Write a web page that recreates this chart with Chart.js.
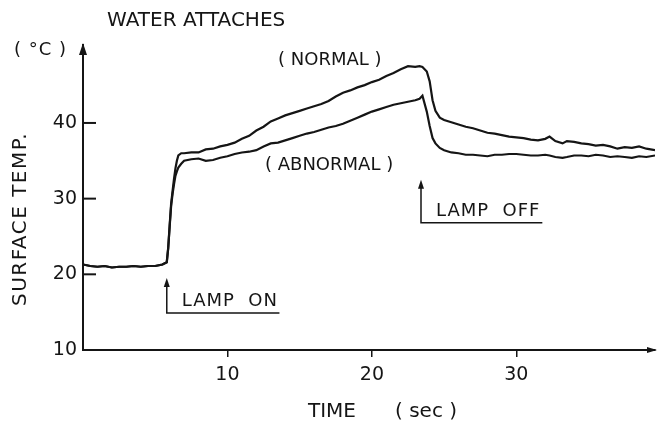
<!DOCTYPE html>
<html lang="en">
<head>
<meta charset="UTF-8">
<title>Water attaches - surface temperature</title>
<script src="https://cdn.jsdelivr.net/npm/chart.js"></script>
<style>
    body { margin: 0; background: #fff; }
    .chart-box { width: 657px; height: 425px; position: relative; }
</style>
</head>
<body>
<div class="chart-box">
    <canvas id="tempChart"></canvas>
</div>
<script>
// time axis (sec) shared by both traces
const timeSec = [0, 0.5, 1, 1.5, 2, 2.5, 3, 3.5, 4, 4.5, 5, 5.5, 5.8, 5.9, 6.0, 6.1, 6.2, 6.3, 6.4, 6.5,
    6.6, 6.8, 7.0, 7.5, 8, 8.5, 9, 9.5, 10, 10.5, 11, 11.5, 12, 12.5, 13, 13.5, 14, 14.5, 15, 15.5,
    16, 16.5, 17, 17.5, 18, 18.5, 19, 19.5, 20, 20.5, 21, 21.5, 22, 22.5, 23, 23.3, 23.5, 23.8, 24.0, 24.2,
    24.4, 24.7, 25, 25.5, 26, 26.5, 27, 27.5, 28, 28.5, 29, 29.5, 30, 30.5, 31, 31.5, 32, 32.3, 32.7, 33.2,
    33.5, 34, 34.5, 35, 35.5, 36, 36.5, 37, 37.5, 38, 38.5, 39, 39.6];

// surface temperature (deg C)
const normalTemp = [21.3, 21.1, 21.0, 21.1, 20.9, 21.0, 21.0, 21.1, 21.0, 21.1, 21.1, 21.3, 21.6, 23.5, 26.5, 29.3, 31.0, 32.6, 34.0, 35.0,
    35.7, 36.0, 36.0, 36.1, 36.1, 36.5, 36.6, 36.9, 37.1, 37.4, 37.9, 38.3, 39.0, 39.5, 40.2, 40.6, 41.0, 41.3, 41.6, 41.9,
    42.2, 42.5, 42.9, 43.5, 44.0, 44.3, 44.7, 45.0, 45.4, 45.7, 46.2, 46.6, 47.1, 47.5, 47.4, 47.5, 47.4, 46.8, 45.5, 43.0,
    41.6, 40.7, 40.4, 40.1, 39.8, 39.5, 39.3, 39.0, 38.7, 38.6, 38.4, 38.2, 38.1, 38.0, 37.8, 37.7, 37.9, 38.2, 37.6, 37.3,
    37.6, 37.5, 37.3, 37.2, 37.0, 37.1, 36.9, 36.6, 36.8, 36.7, 36.9, 36.6, 36.4];

const abnormalTemp = [21.3, 21.1, 21.0, 21.1, 20.9, 21.0, 21.0, 21.1, 21.0, 21.1, 21.1, 21.3, 21.6, 23.5, 26.3, 29.0, 30.6, 31.9, 33.0, 33.6,
    34.1, 34.6, 35.0, 35.2, 35.3, 35.0, 35.1, 35.4, 35.6, 35.9, 36.1, 36.2, 36.4, 36.9, 37.3, 37.4, 37.7, 38.0, 38.3, 38.6,
    38.8, 39.1, 39.4, 39.6, 39.9, 40.3, 40.7, 41.1, 41.5, 41.8, 42.1, 42.4, 42.6, 42.8, 43.0, 43.2, 43.6, 41.5, 39.6, 38.0,
    37.3, 36.7, 36.4, 36.1, 36.0, 35.8, 35.8, 35.7, 35.6, 35.8, 35.8, 35.9, 35.9, 35.8, 35.7, 35.7, 35.8, 35.7, 35.5, 35.4,
    35.5, 35.7, 35.7, 35.6, 35.8, 35.7, 35.5, 35.6, 35.5, 35.4, 35.6, 35.5, 35.7];

const xTicks = [10, 20, 30];
const yTicks = [10, 20, 30, 40];
const lampOnSec = 5.8;
const lampOffSec = 23.4;

const FONT = '"DejaVu Sans", sans-serif';
const INK = '#151515';

function toPoints(ys) {
    return timeSec.map((t, i) => ({ x: t, y: ys[i] }));
}

// labels, inward y ticks, axis arrowheads and lamp markers
const decorations = {
    id: 'decorations',
    afterDraw(chart) {
        const ctx = chart.ctx;
        const xs = chart.scales.x, ys = chart.scales.y;
        const area = chart.chartArea;
        ctx.save();
        ctx.strokeStyle = INK;
        ctx.fillStyle = INK;
        ctx.lineWidth = 2;

        // short ticks pointing into the plot
        yTicks.filter(v => v > 10).forEach(v => {
            const py = ys.getPixelForValue(v);
            ctx.beginPath();
            ctx.moveTo(area.left, py);
            ctx.lineTo(area.left + 13, py);
            ctx.stroke();
        });

        // arrowheads on both axes
        ctx.beginPath();
        ctx.moveTo(area.left, area.top - 2);
        ctx.lineTo(area.left - 4, area.top + 10);
        ctx.lineTo(area.left + 4, area.top + 10);
        ctx.closePath();
        ctx.fill();
        ctx.beginPath();
        ctx.moveTo(area.right + 2, area.bottom);
        ctx.lineTo(area.right - 8, area.bottom - 3);
        ctx.lineTo(area.right - 8, area.bottom + 3);
        ctx.closePath();
        ctx.fill();

        function lampMarker(sec, tipTemp, baseTemp, lineEnd, text) {
            const px = xs.getPixelForValue(sec);
            const tipY = ys.getPixelForValue(tipTemp);
            const baseY = ys.getPixelForValue(baseTemp);
            ctx.lineWidth = 1.5;
            ctx.beginPath();
            ctx.moveTo(px, tipY + 6);
            ctx.lineTo(px, baseY);
            ctx.lineTo(xs.getPixelForValue(lineEnd), baseY);
            ctx.stroke();
            ctx.beginPath();
            ctx.moveTo(px, tipY);
            ctx.lineTo(px - 3, tipY + 9);
            ctx.lineTo(px + 3, tipY + 9);
            ctx.closePath();
            ctx.fill();
            ctx.font = '18px ' + FONT;
            ctx.letterSpacing = '1px';
            ctx.textAlign = 'left';
            ctx.textBaseline = 'middle';
            ctx.fillText(text, px + 15, baseY - 12);
        }
        lampMarker(lampOnSec, 19.5, 14.9, 13.6, 'LAMP  ON');
        lampMarker(lampOffSec, 32.5, 26.8, 31.8, 'LAMP  OFF');

        ctx.textBaseline = 'middle';
        ctx.textAlign = 'left';
        ctx.letterSpacing = '0px';
        ctx.font = '20px ' + FONT;
        ctx.fillText('WATER ATTACHES', 107, 21);
        ctx.font = '18px ' + FONT;
        ctx.letterSpacing = '1px';
        ctx.fillText('( °C )', 14, 50);
        ctx.letterSpacing = '0px';
        ctx.fillText('( NORMAL )', 278, 60);
        ctx.fillText('( ABNORMAL )', 265, 165);

        ctx.font = '20px ' + FONT;
        ctx.fillText('TIME', 308, 412);
        ctx.fillText('( sec )', 395, 412);

        ctx.save();
        ctx.translate(21, 219);
        ctx.rotate(-Math.PI / 2);
        ctx.textAlign = 'center';
        ctx.letterSpacing = '1.5px';
        ctx.fillText('SURFACE TEMP.', 0, 0);
        ctx.restore();

        ctx.restore();
    }
};

const ctx = document.getElementById('tempChart').getContext('2d');
new Chart(ctx, {
    type: 'line',
    data: {
        datasets: [
            { label: 'NORMAL', data: toPoints(normalTemp) },
            { label: 'ABNORMAL', data: toPoints(abnormalTemp) }
        ]
    },
    options: {
        responsive: true,
        maintainAspectRatio: false,
        animation: false,
        layout: { padding: { left: 0, top: 45, right: 2, bottom: 0 } },
        elements: {
            line: { borderColor: INK, borderWidth: 2.2, tension: 0 },
            point: { radius: 0 }
        },
        plugins: {
            legend: { display: false },
            tooltip: { enabled: false }
        },
        scales: {
            x: {
                type: 'linear',
                min: 0,
                max: 39.6,
                afterFit: s => { s.height = 75; },
                afterBuildTicks: s => { s.ticks = xTicks.map(v => ({ value: v })); },
                border: { display: true, color: INK, width: 2 },
                grid: { drawOnChartArea: false, drawTicks: true, tickLength: 7, color: INK, lineWidth: 1.5 },
                ticks: { color: INK, font: { family: FONT, size: 19 }, padding: 7, maxRotation: 0 }
            },
            y: {
                type: 'linear',
                min: 10,
                max: 50.3,
                afterFit: s => { s.width = 83; },
                afterBuildTicks: s => { s.ticks = yTicks.map(v => ({ value: v })); },
                border: { display: true, color: INK, width: 2 },
                grid: { display: false, drawTicks: false },
                ticks: { color: INK, font: { family: FONT, size: 19 }, padding: 6 }
            }
        }
    },
    plugins: [decorations]
});
</script>
</body>
</html>
